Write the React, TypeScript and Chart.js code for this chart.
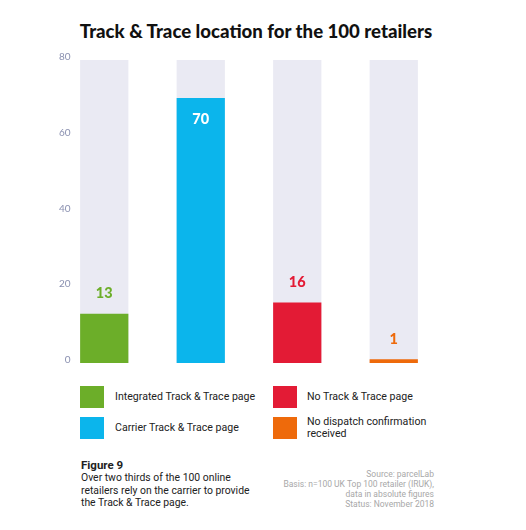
import { useEffect, useRef } from "react";
import Chart from "chart.js/auto";

const CATEGORIES = [
  "Integrated Track & Trace page",
  "Carrier Track & Trace page",
  "No Track & Trace page",
  "No dispatch confirmation received",
];
const RETAILERS = [13, 70, 16, 1];
const TRACK_FULL = [80, 80, 80, 80];
const Y_TICKS = [0, 20, 40, 60, 80];
const COLORS = ["#6cae29", "#0bb5ec", "#e31b35", "#ee6a0b"];

const LEGEND_ROWS = [
  [0, 2],
  [1, 3],
];

const valueLabels = {
  id: "valueLabels",
  afterDatasetsDraw(chart: Chart) {
    const ctx = chart.ctx;
    const meta = chart.getDatasetMeta(1);
    ctx.save();
    ctx.font = "900 14.5px Lato";
    ctx.textAlign = "center";
    ctx.textBaseline = "middle";
    meta.data.forEach((bar: any, i: number) => {
      const v = RETAILERS[i];
      if (v >= 50) {
        ctx.fillStyle = "#ffffff";
        ctx.fillText(String(v), bar.x, bar.y + 21);
      } else {
        ctx.fillStyle = COLORS[i];
        ctx.fillText(String(v), bar.x, bar.y - 20);
      }
    });
    ctx.restore();
  },
};

function TrackChart() {
  const canvasRef = useRef<HTMLCanvasElement | null>(null);
  const chartInstance = useRef<Chart | null>(null);

  useEffect(() => {
    if (chartInstance.current) chartInstance.current.destroy();
    if (!canvasRef.current) return;
    const ctx = canvasRef.current.getContext("2d");
    if (!ctx) return;

    chartInstance.current = new Chart(ctx, {
      type: "bar",
      data: {
        labels: CATEGORIES,
        datasets: [
          {
            label: "total",
            data: TRACK_FULL,
            backgroundColor: "#eaeaf3",
            grouped: false,
            order: 2,
            barPercentage: 0.5,
            categoryPercentage: 1,
          },
          {
            label: "retailers",
            data: RETAILERS,
            backgroundColor: COLORS,
            grouped: false,
            order: 1,
            barPercentage: 0.5,
            categoryPercentage: 1,
          },
        ],
      },
      options: {
        responsive: false,
        animation: false,
        layout: { padding: { top: 60, bottom: 12, left: 8, right: 84 } },
        plugins: {
          legend: { display: false },
          tooltip: { enabled: false },
          title: { display: false },
        },
        scales: {
          x: { display: false },
          y: {
            min: 0,
            max: 80,
            afterFit: (scale: any) => {
              scale.width = 48;
            },
            afterBuildTicks: (scale: any) => {
              scale.ticks = Y_TICKS.map((v) => ({ value: v }));
            },
            grid: { display: false, drawTicks: false },
            border: { display: false },
            ticks: {
              mirror: true,
              crossAlign: "far",
              padding: 3,
              labelOffset: -3,
              color: "#8a90b0",
              font: { family: "Lato", size: 10 },
            },
          },
        },
      },
      plugins: [valueLabels],
    });

    return () => {
      if (chartInstance.current) {
        chartInstance.current.destroy();
        chartInstance.current = null;
      }
    };
  }, []);

  return <canvas ref={canvasRef} width={526} height={375} />;
}

export default function App() {
  const legendText = { fontFamily: "Roboto", fontSize: 10.6, color: "#222" };
  return (
    <div
      style={{
        position: "absolute",
        left: 0,
        top: 0,
        width: 526,
        height: 530,
        background: "#fff",
        fontFamily: "Roboto",
      }}
    >
      <div
        style={{
          position: "absolute",
          left: 0,
          width: 512,
          top: 20,
          textAlign: "center",
          fontFamily: "Lato",
          fontWeight: 900,
          fontSize: 18.6,
          color: "#111",
        }}
      >
        Track &amp; Trace location for the 100 retailers
      </div>
      <div style={{ position: "absolute", left: 0, top: 0 }}>
        <TrackChart />
      </div>
      {LEGEND_ROWS.map((row, r) =>
        row.map((idx, c) => (
          <div key={idx}>
            <div
              style={{
                position: "absolute",
                left: c === 0 ? 80 : 273,
                top: 386 + r * 31,
                width: 24,
                height: 22,
                background: COLORS[idx],
              }}
            />
            <div
              style={{
                ...legendText,
                position: "absolute",
                left: c === 0 ? 115 : 307,
                top: 386 + r * 31,
                height: 22,
                width: c === 0 ? 160 : 130,
                display: "flex",
                alignItems: "center",
                lineHeight: "12.5px",
              }}
            >
              {CATEGORIES[idx]}
            </div>
          </div>
        ))
      )}
      <div
        style={{
          position: "absolute",
          left: 81,
          top: 459,
          fontSize: 10.4,
          lineHeight: "12.8px",
          color: "#222",
          width: 200,
        }}
      >
        <div style={{ fontWeight: 700, fontSize: 11.5 }}>Figure 9</div>
        <div>
          Over two thirds of the 100 online
          <br />
          retailers rely on the carrier to provide
          <br />
          the Track &amp; Trace page.
        </div>
      </div>
      <div
        style={{
          position: "absolute",
          right: 526 - 434,
          top: 469,
          fontSize: 8.5,
          lineHeight: "10px",
          color: "#a8a8a8",
          textAlign: "right",
        }}
      >
        Source: parcelLab
        <br />
        Basis: n=100 UK Top 100 retailer (IRUK),
        <br />
        data in absolute figures
        <br />
        Status: November 2018
      </div>
    </div>
  );
}
